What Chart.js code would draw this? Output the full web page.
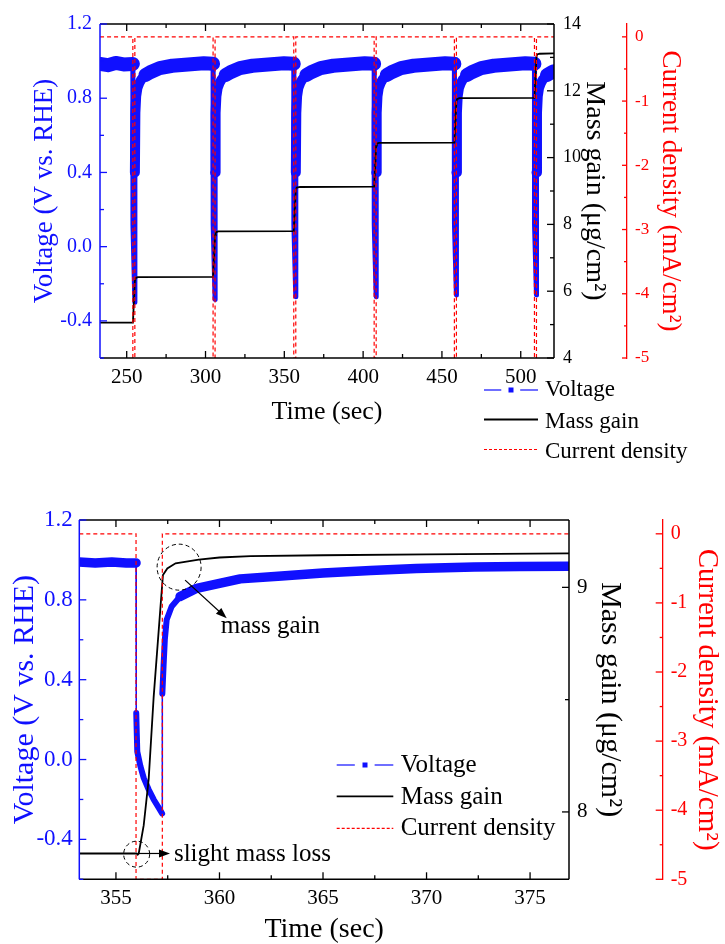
<!DOCTYPE html>
<html>
<head>
<meta charset="utf-8">
<title>Voltage, mass gain and current density</title>
<script src="https://cdn.jsdelivr.net/npm/chart.js@4.4.1/dist/chart.umd.min.js"></script>
<style>
  html, body { margin: 0; padding: 0; background: #fff; }
  body { width: 725px; height: 944px; position: relative; overflow: hidden; }
  canvas { position: absolute; left: 0; }
  #topChart { top: 0; }
  #bottomChart { top: 460px; }
</style>
</head>
<body>
<canvas id="topChart" width="725" height="470"></canvas>
<canvas id="bottomChart" width="725" height="484"></canvas>
<script>
const SERIF = '"Liberation Serif", "Times New Roman", Times, serif';
const BLUE = '#1010ff';
const RED = '#ff0000';

// ---------- top panel : six pulses ----------
const topVoltTime = [
  233.1, 238, 243, 248, 253.9,
  253.95, 255.17, 255.2, 255.5, 256.0, 256.8, 257.9, 259.2, 261.9, 264.9, 270.9, 278.9, 288.9, 298.9, 304.8,
  304.85, 306.07, 306.1, 306.4, 306.9, 307.7, 308.8, 310.1, 312.8, 315.8, 321.8, 329.8, 339.8, 349.8, 356.0,
  356.05, 357.27, 357.3, 357.6, 358.1, 358.9, 360.0, 361.3, 364.0, 367.0, 373.0, 381.0, 391.0, 401.0, 407.0,
  407.05, 408.27, 408.3, 408.6, 409.1, 409.9, 411.0, 412.3, 415.0, 418.0, 424.0, 432.0, 442.0, 452.0, 457.9,
  457.95, 459.17, 459.2, 459.5, 460.0, 460.8, 461.9, 463.2, 465.9, 468.9, 474.9, 482.9, 492.9, 502.9, 508.7,
  508.75, 509.97, 510.0, 510.3, 510.8, 511.6, 512.7, 514.0, 516.7, 519.7, 521.1
];
const topVolt = [
  0.985, 0.978, 0.99, 0.982, 0.985,
  0.12, -0.30, 0.40, 0.72, 0.81, 0.855, 0.88, 0.90, 0.925, 0.94, 0.962, 0.975, 0.982, 0.988, 0.986,
  0.12, -0.285, 0.40, 0.72, 0.81, 0.855, 0.88, 0.90, 0.925, 0.94, 0.962, 0.975, 0.982, 0.988, 0.986,
  0.12, -0.27, 0.40, 0.72, 0.81, 0.855, 0.88, 0.90, 0.925, 0.94, 0.962, 0.975, 0.982, 0.988, 0.986,
  0.12, -0.27, 0.40, 0.72, 0.81, 0.855, 0.88, 0.90, 0.925, 0.94, 0.962, 0.975, 0.982, 0.988, 0.986,
  0.12, -0.26, 0.40, 0.72, 0.81, 0.855, 0.88, 0.90, 0.925, 0.94, 0.962, 0.975, 0.982, 0.988, 0.986,
  0.12, -0.26, 0.40, 0.72, 0.81, 0.855, 0.88, 0.90, 0.925, 0.94, 0.945
];
const topMassTime = [233.1, 253.95, 255.17, 255.6, 257.0, 304.8, 304.85, 306.07, 306.5, 308.0,
  356.0, 356.07, 357.27, 357.9, 360.0, 407.0, 407.05, 408.27, 408.7, 410.0,
  457.9, 457.95, 459.17, 459.6, 461.0, 508.7, 508.75, 509.97, 510.4, 512.0, 521.1];
const topMass = [5.06, 5.06, 6.30, 6.39, 6.42, 6.43, 6.43, 7.67, 7.76, 7.79,
  7.80, 7.80, 9.04, 9.10, 9.12, 9.13, 9.13, 10.36, 10.42, 10.44,
  10.45, 10.45, 11.68, 11.75, 11.78, 11.79, 11.79, 13.02, 13.09, 13.11, 13.12];
const topCurrTime = [233.1, 253.9, 253.9, 255.17, 255.17, 304.8, 304.8, 306.07, 306.07,
  356.0, 356.0, 357.27, 357.27, 407.0, 407.0, 408.27, 408.27,
  457.9, 457.9, 459.17, 459.17, 508.7, 508.7, 509.97, 509.97, 521.1];
const topCurr = [0, 0, -5, -5, 0, 0, -5, -5, 0, 0, -5, -5, 0, 0, -5, -5, 0, 0, -5, -5, 0, 0, -5, -5, 0, 0];

const topTimeTicks = [250, 275, 300, 325, 350, 375, 400, 425, 450, 475, 500];
const topTimeLabels = ['250', '', '300', '', '350', '', '400', '', '450', '', '500'];
const topMassTicks = [4, 5, 6, 7, 8, 9, 10, 11, 12, 13, 14];
const topMassLabels = ['4', '', '6', '', '8', '', '10', '', '12', '', '14'];

// ---------- bottom panel : zoom on the third pulse ----------
const botVoltTime = [353.23, 354.0, 354.8, 355.5, 355.97, 355.98, 356.03, 356.18, 356.34, 356.58,
  356.82, 357.07, 357.23, 357.24, 357.3, 357.36, 357.45, 357.69, 358.1, 358.9,
  360.0, 361.0, 363.0, 365.0, 367.3, 369.5, 372.3, 374.5, 376.88];
const botVolt = [0.99, 0.985, 0.99, 0.985, 0.985, 0.233, 0.04, -0.033, -0.092, -0.15,
  -0.20, -0.242, -0.27, 0.33, 0.47, 0.60, 0.70, 0.767, 0.817, 0.858,
  0.883, 0.905, 0.92, 0.935, 0.947, 0.957, 0.965, 0.967, 0.968];
const botMassTime = [353.23, 356.0, 356.05, 356.1, 356.34, 356.58, 356.82, 357.14, 357.27,
  357.48, 357.88, 359.0, 360.0, 361.5, 365.0, 370.0, 376.88];
const botMass = [7.815, 7.815, 7.81, 7.815, 7.94, 8.145, 8.51, 8.90, 9.055,
  9.084, 9.107, 9.124, 9.133, 9.139, 9.143, 9.147, 9.151];
const botCurrTime = [353.23, 355.97, 355.97, 357.24, 357.24, 376.88];
const botCurr = [0, 0, -5, -5, 0, 0];

const botTimeTicks = [355, 357.5, 360, 362.5, 365, 367.5, 370, 372.5, 375];
const botTimeLabels = ['355', '', '360', '', '365', '', '370', '', '375'];
const botMassTicks = [8, 8.5, 9];
const botMassLabels = ['8', '', '9'];

// shared axes
const voltTicks = [-0.6, -0.4, -0.2, 0, 0.2, 0.4, 0.6, 0.8, 1.0, 1.2];
const voltLabels = ['', '-0.4', '', '0.0', '', '0.4', '', '0.8', '', '1.2'];
const currTicks = [-5, -4.5, -4, -3.5, -3, -2.5, -2, -1.5, -1, -0.5, 0];
const currLabels = ['-5', '', '-4', '', '-3', '', '-2', '', '-1', '', '0'];

function pts(xs, ys) {
  return xs.map((x, i) => ({ x: x, y: ys[i] }));
}

function fixTicks(values) {
  return function (scale) { scale.ticks = values.map(v => ({ value: v })); };
}

// thin line on the jumps, wider where the noisy trace lies flat
function bandWidth(w) {
  return function (ctx) {
    const dx = Math.abs(ctx.p1.x - ctx.p0.x);
    const dy = Math.abs(ctx.p1.y - ctx.p0.y);
    if (dy > 60) return w[0];
    if (dy > dx) return w[1];
    return w[2];
  };
}

// frame, inward ticks, legend and notes
const deco = {
  id: 'deco',
  afterDatasetsDraw(chart, args, o) {
    const ctx = chart.ctx, a = chart.chartArea, s = chart.scales;
    const line = (x1, y1, x2, y2, color, w) => {
      ctx.strokeStyle = color; ctx.lineWidth = w;
      ctx.beginPath(); ctx.moveTo(x1, y1); ctx.lineTo(x2, y2); ctx.stroke();
    };
    ctx.save();
    ctx.setLineDash([]);
    line(a.left, a.top, a.right, a.top, '#000', 1.5);
    line(a.right, a.top, a.right, a.bottom, '#000', 1.5);
    line(a.left, a.bottom, a.right, a.bottom, '#000', 1.5);
    line(a.left, a.top, a.left, a.bottom, BLUE, 1.5);

    s.x.ticks.forEach(t => {
      const p = s.x.getPixelForValue(t.value), n = t.label ? o.major : o.minor;
      line(p, a.bottom, p, a.bottom - n, '#000', 1.3);
      line(p, a.top, p, a.top + n, '#000', 1.3);
    });
    s.y.ticks.forEach(t => {
      const p = s.y.getPixelForValue(t.value), n = t.label ? o.major : o.minor;
      line(a.left, p, a.left + n, p, BLUE, 1.3);
    });
    s.y2.ticks.forEach(t => {
      const p = s.y2.getPixelForValue(t.value), n = t.label ? o.major : o.minor;
      line(a.right, p, a.right - n, p, '#000', 1.3);
    });
    s.y3.ticks.forEach(t => {
      const p = s.y3.getPixelForValue(t.value), n = t.label ? o.rMajor : o.rMinor;
      line(s.y3.left, p, s.y3.left - n, p, RED, 1.3);
    });

    // legend
    const L = o.legend, w = L.x1 - L.x0;
    line(L.x0, L.line[0], L.x0 + w * 0.32, L.line[0], BLUE, 1.2);
    line(L.x1 - w * 0.33, L.line[0], L.x1, L.line[0], BLUE, 1.2);
    ctx.fillStyle = BLUE;
    ctx.fillRect(L.x0 + w / 2 - 2.5, L.line[0] - 2.5, 5, 5);
    line(L.x0, L.line[1], L.x1, L.line[1], '#000', 1.8);
    ctx.setLineDash([3, 2]);
    line(L.x0, L.line[2], L.x1, L.line[2], RED, 1.2);
    ctx.setLineDash([]);
    ctx.fillStyle = '#000';
    ctx.font = L.size + 'px ' + SERIF;
    ctx.textAlign = 'left';
    ctx.textBaseline = 'alphabetic';
    chart.data.datasets.forEach(ds => {
      ctx.fillText(ds.label, L.tx, L.base[ds.legendRow]);
    });

    // annotations, placed on the time and mass-gain scales
    const X = v => s.x.getPixelForValue(v), Y = v => s.y2.getPixelForValue(v);
    (o.notes || []).forEach(n => {
      if (n.type === 'circle') {
        ctx.setLineDash([4, 3]);
        ctx.strokeStyle = '#000'; ctx.lineWidth = 1;
        ctx.beginPath();
        ctx.ellipse(X(n.t), Y(n.m), n.rx, n.ry, 0, 0, Math.PI * 2);
        ctx.stroke();
        ctx.setLineDash([]);
      } else if (n.type === 'arrow') {
        const x1 = X(n.t1), y1 = Y(n.m1), x2 = X(n.t2), y2 = Y(n.m2);
        const ang = Math.atan2(y2 - y1, x2 - x1), c = Math.cos(ang), sn = Math.sin(ang);
        line(x1, y1, x2 - 6 * c, y2 - 6 * sn, '#000', 1.2);
        ctx.fillStyle = '#000';
        ctx.beginPath();
        ctx.moveTo(x2, y2);
        ctx.lineTo(x2 - 11 * c + 4 * sn, y2 - 11 * sn - 4 * c);
        ctx.lineTo(x2 - 11 * c - 4 * sn, y2 - 11 * sn + 4 * c);
        ctx.closePath();
        ctx.fill();
      } else if (n.type === 'text') {
        ctx.font = n.size + 'px ' + SERIF;
        ctx.fillStyle = '#000';
        ctx.fillText(n.text, X(n.t), Y(n.m));
      }
    });
    ctx.restore();
  }
};

function makePanel(id, p) {
  return new Chart(document.getElementById(id), {
    type: 'line',
    data: {
      datasets: [
        {
          label: 'Voltage', legendRow: 0, yAxisID: 'y', order: 2,
          data: pts(p.voltTime, p.volt),
          borderColor: BLUE, backgroundColor: BLUE, pointRadius: 0,
          borderJoinStyle: 'round', borderCapStyle: 'round', clip: 0,
          segment: { borderWidth: bandWidth(p.band) }
        },
        {
          label: 'Mass gain', legendRow: 1, yAxisID: 'y2', order: 1,
          data: pts(p.massTime, p.mass),
          borderColor: '#000', borderWidth: 1.8, pointRadius: 0, clip: 0
        },
        {
          label: 'Current density', legendRow: 2, yAxisID: 'y3', order: 0,
          data: pts(p.currTime, p.curr),
          borderColor: RED, borderWidth: 1.2, borderDash: [4, 3], pointRadius: 0, clip: 0
        }
      ]
    },
    options: {
      responsive: false,
      animation: false,
      events: [],
      layout: { padding: p.padding },
      plugins: {
        legend: { display: false },
        tooltip: { enabled: false },
        deco: { major: 7, minor: 4, rMajor: p.rMajor, rMinor: 3, legend: p.legend, notes: p.notes }
      },
      scales: {
        x: {
          type: 'linear', min: p.xMin, max: p.xMax,
          afterBuildTicks: fixTicks(p.xTicks),
          afterFit: sc => { sc.height = p.xH; },
          grid: { display: false, drawTicks: false },
          border: { display: false },
          ticks: {
            autoSkip: false, maxRotation: 0, padding: 7, color: '#000',
            font: { family: SERIF, size: p.xFont },
            callback: (v, i) => p.xLabels[i]
          },
          title: {
            display: true, text: 'Time (sec)', color: '#000',
            font: { family: SERIF, size: p.xTitle, lineHeight: 1 },
            padding: { top: 0, bottom: p.xTitlePad }
          }
        },
        y: {
          type: 'linear', position: 'left', min: -0.6, max: 1.2,
          afterBuildTicks: fixTicks(voltTicks),
          afterFit: sc => { sc.width = p.yW; },
          grid: { display: false, drawTicks: false },
          border: { display: false },
          ticks: {
            autoSkip: false, padding: p.yLabPad, color: BLUE,
            font: { family: SERIF, size: p.yFont },
            callback: (v, i) => voltLabels[i]
          },
          title: {
            display: true, text: 'Voltage (V vs. RHE)', color: BLUE,
            font: { family: SERIF, size: p.yTitle, lineHeight: 1 },
            padding: { top: p.yTitlePad, bottom: 0 }
          }
        },
        y2: {
          type: 'linear', position: 'right', weight: 0, min: p.y2Min, max: p.y2Max,
          afterBuildTicks: fixTicks(p.y2Ticks),
          afterFit: sc => { sc.width = p.y2W; },
          grid: { display: false, drawTicks: false },
          border: { display: false },
          ticks: {
            autoSkip: false, padding: p.y2LabPad, color: '#000',
            font: { family: SERIF, size: p.y2Font },
            callback: (v, i) => p.y2Labels[i]
          },
          title: {
            display: true, text: 'Mass gain (μg/cm²)', color: '#000',
            font: { family: SERIF, size: p.y2Title, lineHeight: 1 },
            padding: { top: p.y2TitlePad, bottom: 0 }
          }
        },
        y3: {
          type: 'linear', position: 'right', weight: 1, min: -5, max: 0.2,
          afterBuildTicks: fixTicks(currTicks),
          afterFit: sc => { sc.width = p.y3W; },
          grid: { display: false, drawTicks: false },
          border: { display: true, color: RED, width: 1.3 },
          ticks: {
            autoSkip: false, padding: p.y3LabPad, color: RED,
            font: { family: SERIF, size: p.y3Font },
            callback: (v, i) => currLabels[i]
          },
          title: {
            display: true, text: 'Current density (mA/cm²)', color: RED,
            font: { family: SERIF, size: p.y3Title, lineHeight: 1 },
            padding: { top: p.y3TitlePad, bottom: 0 }
          }
        }
      }
    },
    plugins: [deco]
  });
}

makePanel('topChart', {
  voltTime: topVoltTime, volt: topVolt,
  massTime: topMassTime, mass: topMass,
  currTime: topCurrTime, curr: topCurr,
  band: [5, 10, 14],
  padding: { top: 24, bottom: 40, left: 0, right: 0 },
  xMin: 233.06, xMax: 521.1, xTicks: topTimeTicks, xLabels: topTimeLabels,
  xH: 72, xFont: 21, xTitle: 26, xTitlePad: 5,
  yW: 100, yFont: 20, yTitle: 27, yTitlePad: 31.5, yLabPad: 8,
  y2Min: 4, y2Max: 14, y2Ticks: topMassTicks, y2Labels: topMassLabels,
  y2W: 73, y2Font: 18, y2Title: 28, y2TitlePad: 19, y2LabPad: 9,
  y3W: 98, y3Font: 17, y3Title: 27, y3TitlePad: 41.5, y3LabPad: 8,
  rMajor: 5,
  legend: { x0: 484, x1: 538, tx: 545, size: 23, line: [390, 419.5, 449.5], base: [396, 427.5, 457.5] },
  notes: []
});

makePanel('bottomChart', {
  voltTime: botVoltTime, volt: botVolt,
  massTime: botMassTime, mass: botMass,
  currTime: botCurrTime, curr: botCurr,
  band: [1.5, 6, 9.5],
  padding: { top: 60, bottom: 0, left: 0, right: 0 },
  xMin: 353.23, xMax: 376.88, xTicks: botTimeTicks, xLabels: botTimeLabels,
  xH: 64.7, xFont: 21, xTitle: 28, xTitlePad: 0,
  yW: 79.3, yFont: 23, yTitle: 30, yTitlePad: 10, yLabPad: 6.5,
  y2Min: 7.7, y2Max: 9.3, y2Ticks: botMassTicks, y2Labels: botMassLabels,
  y2W: 93.7, y2Font: 21, y2Title: 30, y2TitlePad: 38, y2LabPad: 8,
  y3W: 62.3, y3Font: 20, y3Title: 29, y3TitlePad: 3.8, y3LabPad: 8,
  rMajor: 7,
  legend: { x0: 336.7, x1: 393.3, tx: 400.7, size: 25, line: [305, 336.3, 368.3], base: [311.7, 344, 375] },
  notes: [
    { type: 'circle', t: 356.0, m: 7.812, rx: 13, ry: 13 },
    { type: 'circle', t: 358.05, m: 9.09, rx: 22, ry: 23 },
    { type: 'arrow', t1: 358.34, m1: 9.032, t2: 360.35, m2: 8.862 },
    { type: 'arrow', t1: 356.08, m1: 7.815, t2: 357.61, m2: 7.815 },
    { type: 'text', t: 360.06, m: 8.796, text: 'mass gain', size: 25 },
    { type: 'text', t: 357.8, m: 7.7825, text: 'slight mass loss', size: 25 }
  ]
});
</script>
</body>
</html>
